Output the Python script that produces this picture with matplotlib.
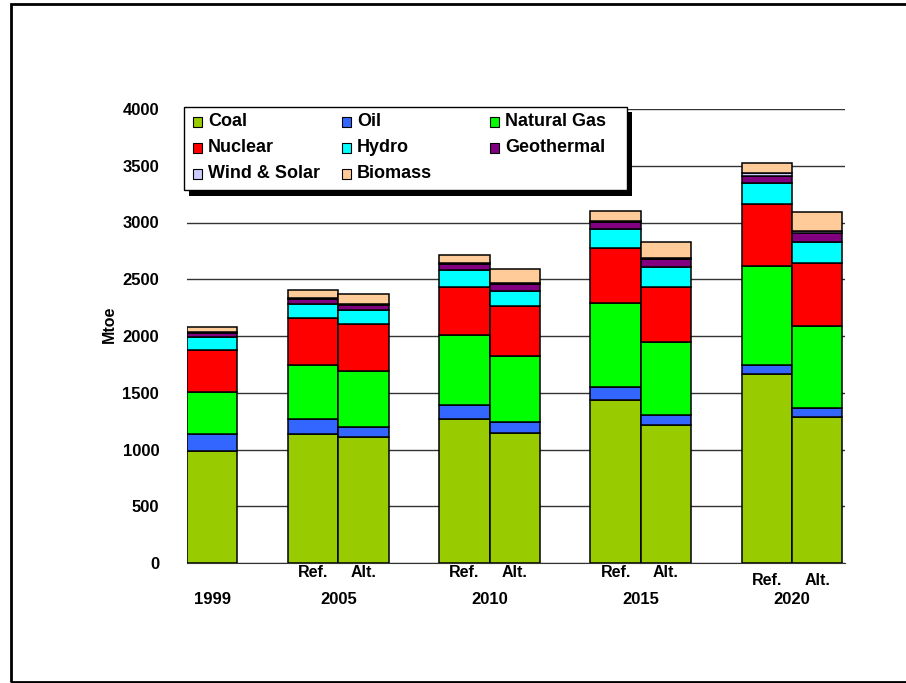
import matplotlib.pyplot as plt
import numpy as np
from matplotlib.patches import Rectangle

plt.rcParams['font.family'] = ['Liberation Sans', 'DejaVu Sans']
plt.rcParams['font.weight'] = 'bold'

# bars: 1999, then Ref./Alt. for each future year
positions = [0, 2, 3, 5, 6, 8, 9, 11, 12]
coal = [990, 1136, 1107, 1266, 1143, 1439, 1213, 1665, 1289]
oil = [150, 130, 94, 123, 99, 111, 88, 82, 77]
gas = [365, 481, 493, 617, 582, 743, 643, 870, 722]
nuclear = [373, 411, 414, 425, 437, 485, 488, 546, 555]
hydro = [111, 124, 124, 150, 135, 164, 173, 185, 182]
geothermal = [35, 47, 38, 50, 62, 59, 71, 62, 85]
wind_solar = [8, 6, 9, 9, 12, 15, 14, 23, 15]
biomass = [48, 70, 88, 76, 120, 85, 141, 88, 165]

series = [("Coal", coal, "#99cc00"),
          ("Oil", oil, "#3366ff"),
          ("Natural Gas", gas, "#00ff00"),
          ("Nuclear", nuclear, "#ff0000"),
          ("Hydro", hydro, "#00ffff"),
          ("Geothermal", geothermal, "#800080"),
          ("Wind & Solar", wind_solar, "#ccccff"),
          ("Biomass", biomass, "#ffcc99")]

sub_labels = ["", "Ref.", "Alt.", "Ref.", "Alt.", "Ref.", "Alt.", "Ref.", "Alt."]
years = ["1999", "2005", "2010", "2015", "2020"]
year_pos = [0, 2.5, 5.5, 8.5, 11.5]

W, H = 906, 683
fig = plt.figure(figsize=(9.06, 6.83), dpi=100)
ax = fig.add_axes([187 / W, 1 - 563 / H, 658 / W, 454 / H])

bottom = np.zeros(len(positions))
for name, vals, col in series:
    ax.bar(positions, vals, width=1.0, bottom=bottom, color=col,
           edgecolor="black", linewidth=1.1, zorder=3)
    bottom += np.array(vals)

ax.set_xlim(-0.5, 12.55)
ax.set_ylim(0, 4000)
ax.set_yticks(np.arange(0, 4001, 500))
ax.yaxis.grid(True, color="#333333", linewidth=1.0, zorder=0)
ax.tick_params(axis="y", length=0, pad=20, labelsize=12)
ax.set_xticks([])
for s in ["left", "right", "top"]:
    ax.spines[s].set_visible(False)
ax.spines["bottom"].set_color("#333333")

# Ref./Alt. and year labels under the bars
tr = ax.get_xaxis_transform()
for p, lab in zip(positions, sub_labels):
    if lab:
        yy = -0.038 if p >= 11 else -0.022
        ax.text(p, yy, lab, transform=tr, ha="center", va="center",
                fontsize=11.5, fontweight="bold")
for p, lab in zip(year_pos, years):
    ax.text(p, -0.081, lab, transform=tr, ha="center", va="center",
            fontsize=12, fontweight="bold")

fig.text(109 / W, 1 - 324 / H, "Mtoe", rotation=90, ha="center", va="center",
         fontsize=11.5, fontweight="bold")

# legend box with shadow, drawn by hand so the columns line up as in the source
def fx(x):
    return x / W

def fy(y):
    return 1 - y / H

fig.patches.append(Rectangle((fx(189), fy(196)), (632 - 189) / W, (196 - 112) / H,
                             transform=fig.transFigure, facecolor="black",
                             edgecolor="none", zorder=5))
fig.patches.append(Rectangle((fx(184), fy(190)), (627 - 184) / W, (190 - 107) / H,
                             transform=fig.transFigure, facecolor="white",
                             edgecolor="black", linewidth=1.0, zorder=6))
col_x = [193, 342, 490]
row_y = [122, 148, 174]
for k, (name, vals, col) in enumerate(series):
    cx = col_x[k % 3]
    cy = row_y[k // 3]
    fig.patches.append(Rectangle((fx(cx), fy(cy + 4.5)), 9 / W, 9 / H,
                                 transform=fig.transFigure, facecolor=col,
                                 edgecolor="black", linewidth=0.8, zorder=7))
    fig.text(fx(cx + 15), fy(cy), name, ha="left", va="center",
             fontsize=13, fontweight="bold", zorder=8)

# outer frame
fig.patches.append(Rectangle((fx(11), fy(682)), (W - 11 + 5) / W, (682 - 4) / H,
                             transform=fig.transFigure, facecolor="none",
                             edgecolor="black", linewidth=2, zorder=10))

fig.savefig("out.png", dpi=100)
